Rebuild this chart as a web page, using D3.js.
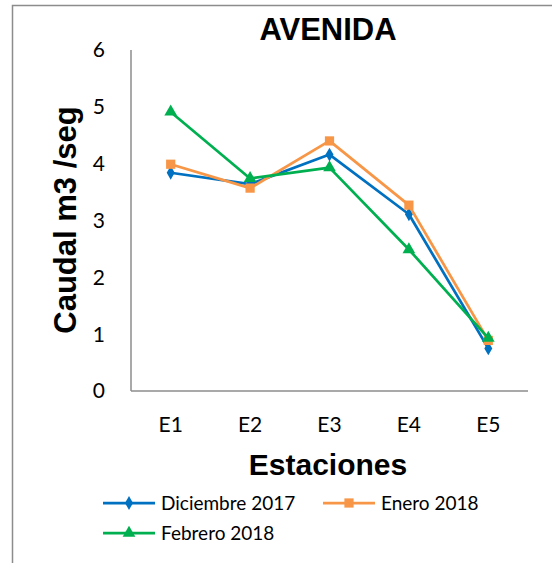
<!DOCTYPE html>
<html>
<head>
<meta charset="utf-8">
<script src="https://cdn.jsdelivr.net/npm/d3@7"></script>
<style>
  body { margin: 0; background: #fff; }
  svg { display: block; }
</style>
</head>
<body>
<svg id="chart" width="552" height="563"></svg>
<script>
// data
const stations = ["E1", "E2", "E3", "E4", "E5"];
const diciembre2017 = [3.84, 3.64, 4.16, 3.11, 0.75];
const enero2018 = [3.99, 3.57, 4.40, 3.27, 0.89];
const febrero2018 = [4.91, 3.74, 3.93, 2.49, 0.93];
const yTicks = [0, 1, 2, 3, 4, 5, 6];

const series = [
    { name: "Diciembre 2017", values: diciembre2017, color: "#0070C0", symbol: d3.symbolDiamond, size: 55 },
    { name: "Enero 2018", values: enero2018, color: "#F79646", symbol: d3.symbolSquare, size: 85 },
    { name: "Febrero 2018", values: febrero2018, color: "#00B050", symbol: d3.symbolTriangle, size: 70 }
];

const svg = d3.select("#chart");
const margin = { left: 131, right: 24, top: 50, bottom: 172 };
const width = 552 - margin.left - margin.right;
const height = 563 - margin.top - margin.bottom;

const labelFont = "Lato, 'Open Sans', sans-serif";
const boldFont = "'Liberation Sans', Arial, sans-serif";

// outer chart frame (left + top visible)
svg.append("path")
    .attr("d", "M12.5,563 V5.5 H552")
    .attr("fill", "none")
    .attr("stroke", "#8c8c8c")
    .attr("stroke-width", 1.5);

const x = d3.scalePoint().domain(stations).range([0, width]).padding(0.5);
const y = d3.scaleLinear().domain([0, 6]).range([height, 0]);

const g = svg.append("g").attr("transform", `translate(${margin.left},${margin.top})`);

// axes lines
g.append("line").attr("x1", 0).attr("x2", 0).attr("y1", 0).attr("y2", height)
    .attr("stroke", "#8c8c8c").attr("stroke-width", 1.5);
g.append("line").attr("x1", 0).attr("x2", width).attr("y1", height).attr("y2", height)
    .attr("stroke", "#8c8c8c").attr("stroke-width", 1.5);

// y tick labels
g.selectAll(".ytick")
    .data(yTicks)
    .join("text")
    .attr("class", "ytick")
    .attr("x", -26)
    .attr("y", d => y(d))
    .attr("dy", "0.35em")
    .attr("text-anchor", "end")
    .style("font-family", labelFont)
    .style("font-size", "21px")
    .style("fill", "#000")
    .text(d => d);

// x tick labels
g.selectAll(".xtick")
    .data(stations)
    .join("text")
    .attr("class", "xtick")
    .attr("x", d => x(d))
    .attr("y", height + 41)
    .attr("text-anchor", "middle")
    .style("font-family", labelFont)
    .style("font-size", "21px")
    .style("fill", "#000")
    .text(d => d);

// lines + markers
const line = d3.line()
    .x((d, i) => x(stations[i]))
    .y(d => y(d));

series.forEach(s => {
    g.append("path")
        .datum(s.values)
        .attr("fill", "none")
        .attr("stroke", s.color)
        .attr("stroke-width", 2.75)
        .attr("stroke-linejoin", "round")
        .attr("d", line);

    g.selectAll(null)
        .data(s.values)
        .join("path")
        .attr("transform", (d, i) => `translate(${x(stations[i])},${y(d)})`)
        .attr("d", d3.symbol().type(s.symbol).size(s.size))
        .attr("fill", s.color);
});

// title
svg.append("text")
    .attr("x", 328)
    .attr("y", 40)
    .attr("text-anchor", "middle")
    .style("font-family", boldFont)
    .style("font-weight", "bold")
    .style("font-size", "31px")
    .text("AVENIDA");

// axis titles
svg.append("text")
    .attr("transform", "translate(76,220) rotate(-90)")
    .attr("text-anchor", "middle")
    .style("font-family", boldFont)
    .style("font-weight", "bold")
    .style("font-size", "31px")
    .text("Caudal m3 /seg");

svg.append("text")
    .attr("x", 328)
    .attr("y", 475)
    .attr("text-anchor", "middle")
    .style("font-family", boldFont)
    .style("font-weight", "bold")
    .style("font-size", "30px")
    .text("Estaciones");

// legend
const legendPos = [[103, 503], [323, 503], [103, 533]];
series.forEach((s, i) => {
    const [lx, ly] = legendPos[i];
    const lg = svg.append("g").attr("transform", `translate(${lx},${ly})`);
    lg.append("line").attr("x1", 0).attr("x2", 52).attr("y1", 0).attr("y2", 0)
        .attr("stroke", s.color).attr("stroke-width", 2.75);
    lg.append("path")
        .attr("transform", "translate(26,0)")
        .attr("d", d3.symbol().type(s.symbol).size(s.size))
        .attr("fill", s.color);
    lg.append("text")
        .attr("x", 58)
        .attr("dy", "0.35em")
        .style("font-family", labelFont)
        .style("font-size", "19px")
        .text(s.name);
});
</script>
</body>
</html>
